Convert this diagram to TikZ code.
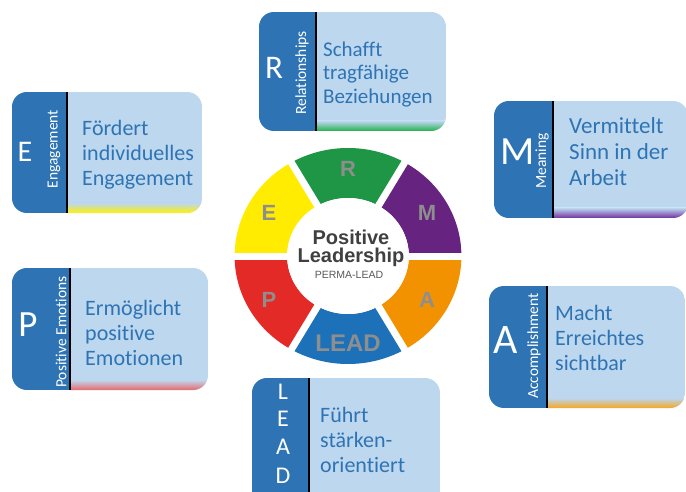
\documentclass[tikz,border=0pt]{standalone}
\usepackage{fontspec}
\setmainfont{Carlito}[Ligatures=NoCommon]
\newfontfamily\ringfont{Liberation Sans}
\usepackage{xcolor}
\definecolor{panelBlue}{HTML}{2E74B5}
\definecolor{cardBlue}{HTML}{BDD7EE}
\definecolor{textBlue}{HTML}{2E74B5}
\definecolor{ringGreen}{HTML}{1E9646}
\definecolor{ringYellow}{HTML}{FFEC00}
\definecolor{ringPurple}{HTML}{66237F}
\definecolor{ringOrange}{HTML}{F39200}
\definecolor{ringBlue}{HTML}{1D71B8}
\definecolor{ringRed}{HTML}{E42A26}
\definecolor{ringGray}{HTML}{8E8E8E}
\definecolor{stripGreen}{HTML}{22B14C}
\definecolor{stripYellow}{HTML}{FFF200}
\definecolor{stripPurple}{HTML}{7030A0}
\definecolor{stripRed}{HTML}{E8686E}
\definecolor{stripOrange}{HTML}{F5A623}
\tikzset{
    panel/.style={fill=panelBlue},
    card/.style={fill=cardBlue},
    divider/.style={draw=black, line width=2.5pt},
    bigletter/.style={text=white, inner sep=0pt},
    sidelabel/.style={text=white, rotate=90, inner sep=0pt, font=\fontsize{15.5}{18}\selectfont},
    cardtext/.style={text=textBlue, align=left, anchor=north west, inner sep=0pt, font=\fontsize{22}{25}\selectfont},
    ringletter/.style={text=ringGray, inner sep=0pt, font=\ringfont\bfseries\fontsize{22}{24}\selectfont}
}

\begin{document}
\begin{tikzpicture}[x=1pt, y=1pt]
        \useasboundingbox (0,0) rectangle (686,-492);
        \clip (0,0) rectangle (686,-492);
        \fill[white] (0,0) rectangle (686,-492);

        % ---------------- ring ----------------
        \begin{scope}[shift={(348,-256)}, xscale=1.05]
            % six coloured sectors, one per letter
            \foreach \a/\c in {90/ringGreen, 30/ringPurple, -30/ringOrange, -90/ringBlue, -150/ringRed, 150/ringYellow} {
                \fill[\c] (\a-30:58) -- (\a-30:108) arc[start angle=\a-30, end angle=\a+30, radius=108]
                    -- (\a+30:58) arc[start angle=\a+30, end angle=\a-30, radius=58] -- cycle;
            }

            % white gaps between the sectors
            \foreach \a in {0,60,120} {
                \draw[white, line width=7pt] (\a:112) -- (\a+180:112);
            }
            \fill[white] (0,0) circle (58);

            \foreach \a/\t/\n in {90/R/ringR, 30/M/ringM, -30/A/ringA, -150/P/ringP, 150/E/ringE} {
                \node[ringletter] (\n) at (\a:87) {\t};
            }
            \node[ringletter, font=\ringfont\bfseries\fontsize{24}{26}\selectfont] (ringLead) at (-90:87) {LEAD};
        \end{scope}

        % centre title
        \node[anchor=base, inner sep=0pt, text=black!75, font=\ringfont\bfseries\fontsize{20}{22}\selectfont] (posTitle) at (351,-244.5) {Positive};
        \node[anchor=base, inner sep=0pt, text=black!75, font=\ringfont\bfseries\fontsize{20}{22}\selectfont] (leadTitle) at (351,-262) {Leadership};
        \node[anchor=base, inner sep=0pt, text=black!65, font=\ringfont\fontsize{10.5}{12}\selectfont] (permaTitle) at (349,-278) {PERMA-LEAD};

        % ---------------- R : Relationships ----------------
        \begin{scope}
            \clip[rounded corners=15pt] (259,-12) rectangle (446,-131);
            \fill[card] (259,-12) rectangle (446,-131);
            \fill[panel] (259,-12) rectangle (316,-131);
            \shade[top color=cardBlue, bottom color=stripGreen] (316,-121) rectangle (446,-131);
            \draw[divider] (316,-12) -- (316,-131);
        \end{scope}
        \node[bigletter, font=\fontsize{33}{36}\selectfont] (rLetter) at (274,-68) {R};
        \node[sidelabel] (rLabel) at (302,-73) {Relationships};
        \node[cardtext, font=\fontsize{21}{23.5}\selectfont] (rText) at (323,-39.5) {\strut Schafft\\tragfähige\\Beziehungen};

        % ---------------- E : Engagement ----------------
        \begin{scope}
            \clip[rounded corners=15pt] (12,-92) rectangle (202,-213);
            \fill[card] (12,-92) rectangle (202,-213);
            \fill[panel] (12,-92) rectangle (67,-213);
            \shade[top color=cardBlue, bottom color=stripYellow] (67,-203) rectangle (202,-213);
            \draw[divider] (67,-92) -- (67,-213);
        \end{scope}
        \node[bigletter, font=\fontsize{30}{33}\selectfont] (eLetter) at (25,-152) {E};
        \node[sidelabel] (eLabel) at (54,-149) {Engagement};
        \node[cardtext] (eText) at (82,-117.5) {\strut Fördert\\individuelles\\Engagement};

        % ---------------- M : Meaning ----------------
        \begin{scope}
            \clip[rounded corners=15pt] (494,-101) rectangle (688,-218);
            \fill[card] (494,-101) rectangle (688,-218);
            \fill[panel] (494,-101) rectangle (553,-218);
            \shade[top color=cardBlue, bottom color=stripPurple] (553,-208) rectangle (688,-218);
            \draw[divider] (553,-101) -- (553,-218);
        \end{scope}
        \node[bigletter, font=\fontsize{40}{44}\selectfont] (mLetter) at (518,-152) {M};
        \node[sidelabel] (mLabel) at (542,-161) {Meaning};
        \node[cardtext, font=\fontsize{23}{26}\selectfont] (mText) at (569,-114.8) {\strut Vermittelt\\Sinn in der\\Arbeit};

        % ---------------- P : Positive Emotions ----------------
        \begin{scope}
            \clip[rounded corners=15pt] (12,-268) rectangle (208,-390);
            \fill[card] (12,-268) rectangle (208,-390);
            \fill[panel] (12,-268) rectangle (70,-390);
            \shade[top color=cardBlue, bottom color=stripRed] (70,-380) rectangle (208,-390);
            \draw[divider] (70,-268) -- (70,-390);
        \end{scope}
        \node[bigletter, font=\fontsize{37}{40}\selectfont] (pLetter) at (28,-325) {P};
        \node[sidelabel] (pLabel) at (61,-332) {Positive Emotions};
        \node[cardtext] (pText) at (85,-297.5) {\strut Ermöglicht\\positive\\Emotionen};

        % ---------------- A : Accomplishment ----------------
        \begin{scope}
            \clip[rounded corners=15pt] (489,-286) rectangle (685,-408);
            \fill[card] (489,-286) rectangle (685,-408);
            \fill[panel] (489,-286) rectangle (547,-408);
            \shade[top color=cardBlue, bottom color=stripOrange] (547,-398) rectangle (685,-408);
            \draw[divider] (547,-286) -- (547,-408);
        \end{scope}
        \node[bigletter, font=\fontsize{42}{46}\selectfont] (aLetter) at (506,-340) {A};
        \node[sidelabel] (aLabel) at (534,-346) {Accomplishment};
        \node[cardtext] (aText) at (555,-302.5) {\strut Macht\\Erreichtes\\sichtbar};

        % ---------------- LEAD ----------------
        \begin{scope}
            \clip[rounded corners=15pt] (252,-378) rectangle (440,-510);
            \fill[card] (252,-378) rectangle (440,-510);
            \fill[panel] (252,-378) rectangle (309,-510);
            \draw[divider] (309,-378) -- (309,-510);
        \end{scope}
        % letters stacked down the side panel
        \foreach \t/\y in {L/392, E/419, A/447, D/476} {
            \node[bigletter, font=\fontsize{24}{26}\selectfont] (lead\t) at (283,-\y) {\t};
        }
        \node[cardtext] (leadText) at (320,-404.5) {\strut Führt\\stärken-\\orientiert};
    \end{tikzpicture}
\end{document}
